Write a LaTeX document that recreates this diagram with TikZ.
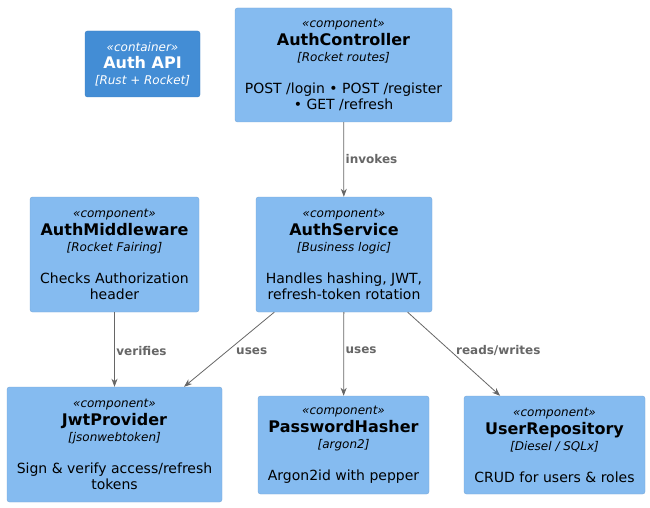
\documentclass[tikz,border=0pt]{standalone}
\usepackage{fontspec}
\setmainfont{DejaVu Sans}
\usetikzlibrary{arrows.meta}

\definecolor{compfill}{HTML}{85BBF0}
\definecolor{compline}{HTML}{78A8D8}
\definecolor{contfill}{HTML}{438DD5}
\definecolor{contline}{HTML}{3C7FC0}
\definecolor{relgray}{HTML}{666666}

\newcommand{\stereo}[1]{{\fontsize{12}{14}\selectfont\itshape «#1»}}
\newcommand{\ctitle}[1]{{\fontsize{16}{18}\selectfont\bfseries #1}}
\newcommand{\ctech}[1]{{\fontsize{12}{14}\selectfont\itshape [#1]}}

\begin{document}
\begin{tikzpicture}[x=1pt,y=-1pt,
		comp/.style={draw=compline,fill=compfill,rounded corners=2.5pt,align=center,inner sep=0pt,
			font=\fontsize{14}{16}\selectfont},
		cont/.style={comp,draw=contline,fill=contfill,text=white},
		rel/.style={draw=relgray,line width=0.8pt,-{Stealth[length=8pt,width=6pt,inset=2.5pt]}},
		rlabel/.style={right,midway,inner sep=1.5pt,text=relgray,font=\fontsize{12}{14}\selectfont\bfseries}]
			\useasboundingbox (0,0) rectangle (650,508);
			\node[cont,minimum width=115pt,minimum height=66pt] (api) at (142.5,64)
				{\stereo{container}\\[1pt]\ctitle{Auth API}\\\ctech{Rust + Rocket}};
			\node[comp,minimum width=217pt,minimum height=114pt] (ctrl) at (343.5,65)
				{\stereo{component}\\[2pt]\ctitle{AuthController}\\\ctech{Rocket routes}\\[16pt]POST /login • POST /register\\• GET /refresh};
			\node[comp,minimum width=169pt,minimum height=115pt] (mw) at (114.5,254.5)
				{\stereo{component}\\[2pt]\ctitle{AuthMiddleware}\\\ctech{Rocket Fairing}\\[16pt]Checks Authorization\\header};
			\node[comp,minimum width=176pt,minimum height=115pt] (svc) at (344,254.5)
				{\stereo{component}\\[2pt]\ctitle{AuthService}\\\ctech{Business logic}\\[16pt]Handles hashing, JWT,\\refresh-token rotation};
			\node[comp,minimum width=215pt,minimum height=115pt] (jwt) at (114.5,444.5)
				{\stereo{component}\\[2pt]\ctitle{JwtProvider}\\\ctech{jsonwebtoken}\\[16pt]Sign \& verify access/refresh\\tokens};
			\node[comp,minimum width=171pt,minimum height=98pt] (hash) at (343.5,445)
				{\stereo{component}\\[2pt]\ctitle{PasswordHasher}\\\ctech{argon2}\\[16pt]Argon2id with pepper};
			\node[comp,minimum width=181pt,minimum height=98pt] (repo) at (554.5,445)
				{\stereo{component}\\[2pt]\ctitle{UserRepository}\\\ctech{Diesel / SQLx}\\[16pt]CRUD for users \& roles};
			\draw[rel] (ctrl) -- node[rlabel] {invokes} (svc);
			\draw[rel] (mw) -- node[rlabel,pos=0.52] {verifies} (jwt);
			\draw[rel] (svc) -- node[rlabel,pos=0.52,xshift=7pt] {uses} (jwt);
			\draw[rel] (svc) -- node[rlabel,pos=0.46] {uses} (hash);
			\draw[rel] (svc) -- node[rlabel,pos=0.46,xshift=4pt] {reads/writes} (repo);
		\end{tikzpicture}
\end{document}
